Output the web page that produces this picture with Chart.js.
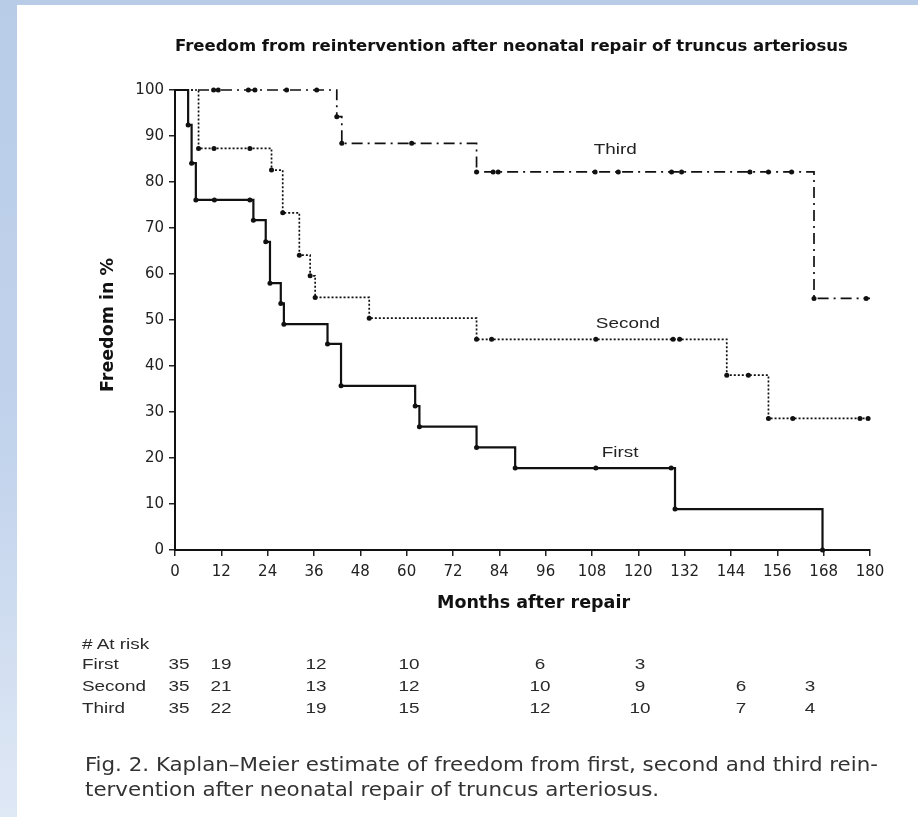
<!DOCTYPE html>
<html>
<head>
<meta charset="utf-8">
<title>Freedom from reintervention</title>
<script src="https://cdn.jsdelivr.net/npm/chart.js@4.4.0/dist/chart.umd.min.js"></script>
<style>
  html, body { margin: 0; padding: 0; }
  body {
    width: 918px; height: 817px; position: relative; overflow: hidden;
    background: linear-gradient(to bottom, #b8cce8 0%, #c2d3ec 55%, #dfe8f5 100%);
  }
  #panel { position: absolute; left: 17px; top: 5px; right: 0; bottom: 0; background: #fff; }
  #chart { position: absolute; left: 0; top: 0; }
  .risk { position: absolute; white-space: nowrap; color: #2a2a2a; font: 14px "Liberation Sans", Arial, sans-serif; }
  .cap { position: absolute; left: 85px; white-space: nowrap; color: #333; font: 19px "DejaVu Sans Condensed", "DejaVu Sans", sans-serif; transform-origin: left center; }
</style>
</head>
<body>
<div id="panel"></div>
<canvas id="chart" width="918" height="817"></canvas>
<div id="risk"></div>
<div class="cap" id="cap1" style="top:753px">Fig. 2. Kaplan–Meier estimate of freedom from first, second and third rein-</div>
<div class="cap" id="cap2" style="top:778px">tervention after neonatal repair of truncus arteriosus.</div>

<script>
const chartTitle = 'Freedom from reintervention after neonatal repair of truncus arteriosus';
const xTitle = 'Months after repair';
const yTitle = 'Freedom in %';

// Kaplan-Meier steps: month of each event / censoring and freedom (%) after it
const firstMonths = [0, 3.4, 4.3, 5.4, 10.2, 19.4, 20.3, 23.5, 24.6, 27.4, 28.2, 39.5, 43, 62.2, 63.3, 78.1, 88.1, 109, 128.5, 129.5, 167.7];
const firstFreedom = [100, 92.4, 84.1, 76.1, 76.1, 76.1, 71.7, 67, 58, 53.6, 49.1, 44.8, 35.7, 31.3, 26.8, 22.3, 17.8, 17.8, 17.8, 8.9, 0];

const secondMonths = [0, 6.1, 10.1, 19.4, 25, 27.9, 32.2, 35, 36.3, 50.3, 78.1, 82, 109, 129, 130.7, 142.9, 148.5, 153.7, 160, 177.4, 179.5, 180];
const secondFreedom = [100, 87.3, 87.3, 87.3, 82.6, 73.3, 64.1, 59.6, 54.9, 50.4, 45.8, 45.8, 45.8, 45.8, 45.8, 38, 38, 28.6, 28.6, 28.6, 28.6, 28.6];

const thirdMonths = [0, 10, 11.2, 19, 20.7, 28.9, 36.7, 41.9, 43.2, 61.3, 78.1, 82.4, 83.7, 108.8, 114.8, 128.6, 131.2, 148.9, 153.7, 159.7, 165.5, 179, 180];
const thirdFreedom = [100, 100, 100, 100, 100, 100, 100, 94.2, 88.4, 88.4, 82.2, 82.2, 82.2, 82.2, 82.2, 82.2, 82.2, 82.2, 82.2, 82.2, 54.7, 54.7, 54.7];

// curve names written next to each line (month, freedom)
const curveNames = ['First', 'Second', 'Third'];
const curveNameMonths = [115.3, 117.3, 114];
const curveNameFreedom = [21.1, 49.1, 87];

// number at risk table
const riskMonths = [0, 12, 36, 60, 96, 120, 144, 168];
const firstAtRisk = [35, 19, 12, 10, 6, 3];
const secondAtRisk = [35, 21, 13, 12, 10, 9, 6, 3];
const thirdAtRisk = [35, 22, 19, 15, 12, 10, 7, 4];
// the printed columns sit a little off the ticks
const riskNudge = [4, 0, 2, 2, -6, 2, 10, -14];

const toPoints = (months, freedom) => months.map((m, i) => ({ x: m, y: freedom[i] }));

// no marker on the starting point or where a curve runs out at 180 months
const markerRadius = ctx => (ctx.dataIndex === 0 || ctx.raw.x === 180) ? 0 : 2.5;

const tickFont = { family: 'DejaVu Sans', size: 15 };

// axis titles and curve names
const annotations = {
    id: 'annotations',
    afterDatasetsDraw(chart) {
        const { ctx, chartArea, scales: { x, y } } = chart;
        ctx.save();
        ctx.fillStyle = '#111';
        ctx.font = 'bold 17.5px "DejaVu Sans", sans-serif';
        ctx.textAlign = 'center';
        ctx.textBaseline = 'middle';
        ctx.fillText(xTitle, (chartArea.left + chartArea.right) / 2 + 11, chartArea.bottom + 53);
        ctx.save();
        ctx.translate(108, (chartArea.top + chartArea.bottom) / 2 + 5);
        ctx.rotate(-Math.PI / 2);
        ctx.fillText(yTitle, 0, 0);
        ctx.restore();

        ctx.fillStyle = '#222';
        ctx.font = '14px "Liberation Sans", Arial, sans-serif';
        curveNames.forEach((name, i) => {
            ctx.save();
            ctx.translate(x.getPixelForValue(curveNameMonths[i]), y.getPixelForValue(curveNameFreedom[i]));
            ctx.scale(1.35, 1);
            ctx.fillText(name, 0, 0);
            ctx.restore();
        });
        ctx.restore();
    }
};

const lineBase = {
    showLine: true,
    stepped: 'before',
    clip: false,
    borderColor: '#111',
    backgroundColor: '#111',
    pointRadius: markerRadius,
    pointHoverRadius: markerRadius,
    pointBorderWidth: 0
};

const chart = new Chart(document.getElementById('chart'), {
    type: 'scatter',
    data: {
        datasets: [
            Object.assign({}, lineBase, { label: 'First', data: toPoints(firstMonths, firstFreedom), borderWidth: 2.2 }),
            Object.assign({}, lineBase, { label: 'Second', data: toPoints(secondMonths, secondFreedom), borderWidth: 1.7, borderDash: [2, 2] }),
            Object.assign({}, lineBase, { label: 'Third', data: toPoints(thirdMonths, thirdFreedom), borderWidth: 1.7, borderDash: [11, 5, 2, 5] })
        ]
    },
    options: {
        responsive: false,
        animation: false,
        devicePixelRatio: 1,
        layout: { padding: { left: 90, right: 48, top: 0, bottom: 187 } },
        plugins: {
            legend: { display: false },
            tooltip: { enabled: false },
            title: {
                display: true,
                text: chartTitle,
                align: 'start',
                fullSize: false,
                color: '#111',
                font: { family: 'DejaVu Sans', size: 16.5, weight: 'bold', lineHeight: 1.2 },
                padding: { top: 37, bottom: 33.2 }
            }
        },
        scales: {
            x: {
                type: 'linear',
                min: 0,
                max: 180,
                ticks: { stepSize: 12, autoSkip: false, maxRotation: 0, padding: 7, color: '#222', font: tickFont },
                grid: { drawOnChartArea: false, tickLength: 6, color: '#222', lineWidth: 1.5 },
                border: { color: '#111', width: 2 },
                afterFit: scale => { scale.height = 80; }
            },
            y: {
                min: 0,
                max: 100,
                ticks: { stepSize: 10, padding: 5, color: '#222', font: tickFont },
                grid: { drawOnChartArea: false, tickLength: 6, color: '#222', lineWidth: 1.5 },
                border: { color: '#111', width: 2 },
                afterFit: scale => { scale.width = 85; }
            }
        }
    },
    plugins: [annotations]
});

// # at risk table under the x axis, columns lined up with the month ticks
const risk = document.getElementById('risk');
function addRiskText(text, left, top, centered) {
    const el = document.createElement('div');
    el.className = 'risk';
    el.textContent = text;
    el.style.left = left + 'px';
    el.style.top = top + 'px';
    el.style.transformOrigin = centered ? 'center center' : 'left center';
    el.style.transform = centered ? 'translate(-50%, -50%) scaleX(1.35)' : 'translateY(-50%) scaleX(1.35)';
    risk.appendChild(el);
}
addRiskText('# At risk', 82, 644, false);
[firstAtRisk, secondAtRisk, thirdAtRisk].forEach((counts, row) => {
    const top = 664 + row * 22;
    addRiskText(curveNames[row], 82, top, false);
    counts.forEach((n, i) => addRiskText(String(n), chart.scales.x.getPixelForValue(riskMonths[i]) + riskNudge[i], top, true));
});

// fit the caption lines to the column width
const cap1 = document.getElementById('cap1');
const cap2 = document.getElementById('cap2');
const stretch = 793 / cap1.getBoundingClientRect().width;
cap1.style.transform = 'scaleX(' + stretch + ')';
cap2.style.transform = 'scaleX(' + stretch + ')';
</script>
</body>
</html>
